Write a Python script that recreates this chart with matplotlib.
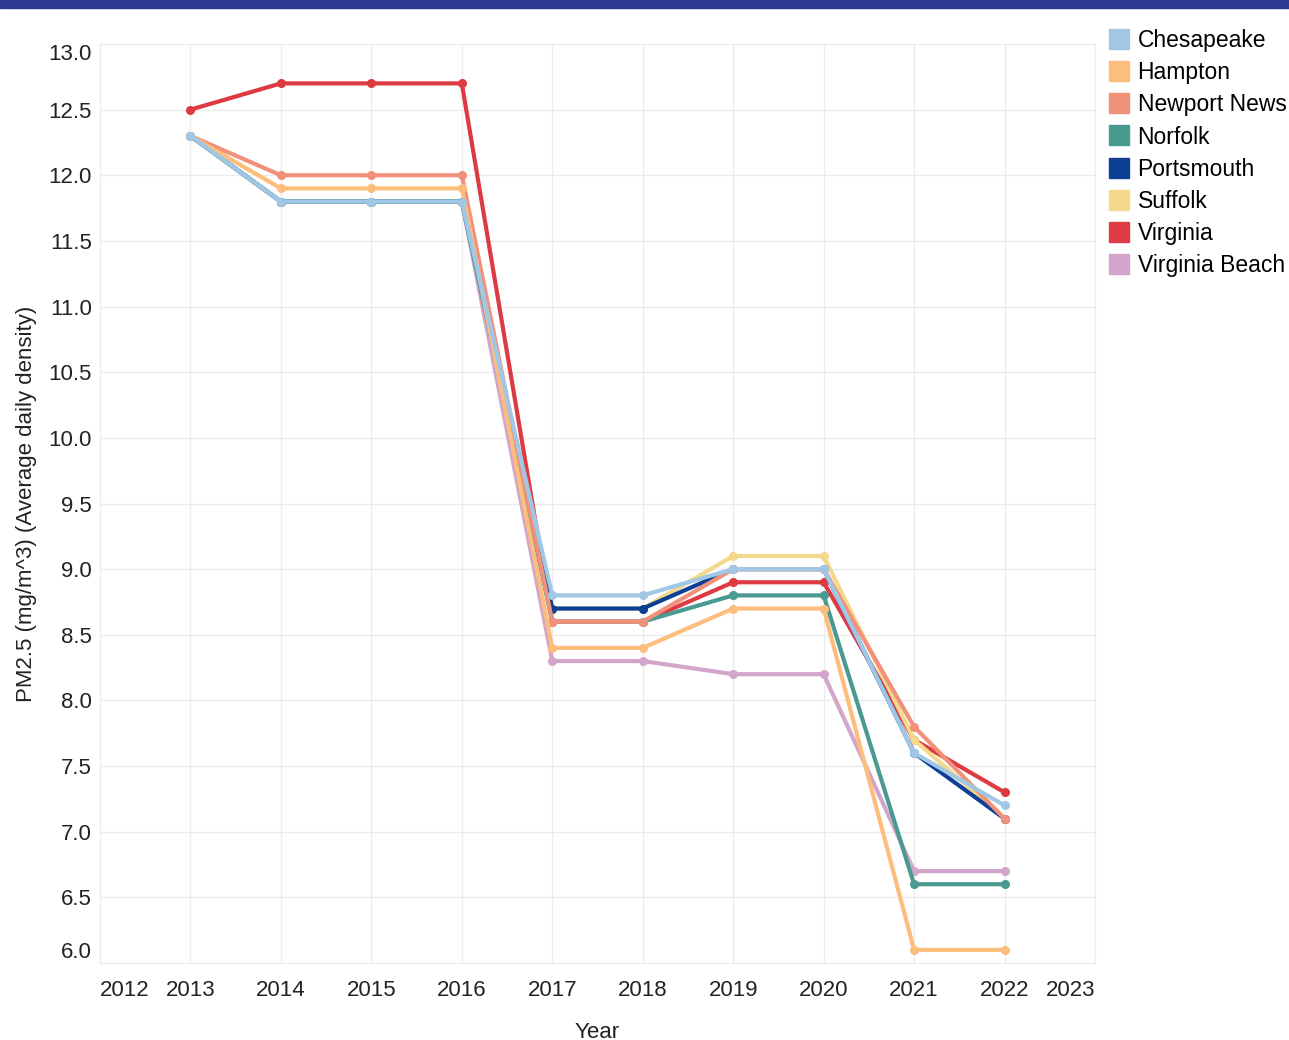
import matplotlib
matplotlib.use("Agg")
import matplotlib.pyplot as plt
from matplotlib.lines import Line2D
from matplotlib.patches import Rectangle

plt.rcParams['font.family'] = ['Liberation Sans', 'DejaVu Sans']

years = [2013, 2014, 2015, 2016, 2017, 2018, 2019, 2020, 2021, 2022]

chesapeake = [12.3, 11.8, 11.8, 11.8, 8.8, 8.8, 9.0, 9.0, 7.6, 7.2]
hampton = [12.3, 11.9, 11.9, 11.9, 8.4, 8.4, 8.7, 8.7, 6.1, 6.1]
newport_news = [12.3, 12.0, 12.0, 12.0, 8.6, 8.6, 9.0, 9.0, 7.8, 7.1]
norfolk = [12.3, 11.8, 11.8, 11.8, 8.6, 8.6, 8.8, 8.8, 6.6, 6.6]
portsmouth = [12.3, 11.8, 11.8, 11.8, 8.7, 8.7, 9.0, 9.0, 7.6, 7.1]
suffolk = [12.3, 11.8, 11.8, 11.8, 8.7, 8.7, 9.1, 9.1, 7.7, 7.1]
virginia = [12.5, 12.7, 12.7, 12.7, 8.6, 8.6, 8.9, 8.9, 7.7, 7.3]
virginia_beach = [12.3, 11.8, 11.8, 11.8, 8.3, 8.3, 8.2, 8.2, 6.7, 6.7]

names = ["Chesapeake", "Hampton", "Newport News", "Norfolk",
         "Portsmouth", "Suffolk", "Virginia", "Virginia Beach"]
series = [chesapeake, hampton, newport_news, norfolk,
          portsmouth, suffolk, virginia, virginia_beach]
colors = ["#A0C8E6", "#FDBE7D", "#F2917A", "#4A9A92",
          "#0F3F94", "#F4D98A", "#DE3A42", "#D2A6CA"]

x_ticks = list(range(2012, 2024))
y_ticks = [6.0 + 0.5 * i for i in range(15)]

fig = plt.figure(figsize=(12.89, 10.4), dpi=100)
ax = fig.add_axes([100 / 1289, 77 / 1040, 995 / 1289, 919 / 1040])

# top banner
fig.patches.append(Rectangle((0, 1032 / 1040), 1, 8 / 1040, transform=fig.transFigure,
                             color="#2B3990", zorder=5))

# draw in reverse legend order so Chesapeake ends up on top
for name, vals, col in reversed(list(zip(names, series, colors))):
    ax.plot(years, vals, color=col, lw=3.0, marker='o', markersize=5.5,
            solid_joinstyle='round', label=name)

ax.set_xlim(2012, 2023)
ax.set_ylim(6.0, 13.0)
ax.set_xticks(x_ticks)
ax.set_xticklabels([str(y) for y in x_ticks])
ax.set_yticks(y_ticks)
ax.set_yticklabels([f"{v:.1f}" for v in y_ticks])
ax.tick_params(axis='both', length=0, labelsize=16, labelcolor='#222222')
ax.tick_params(axis='x', pad=12)
ax.tick_params(axis='y', pad=6)

# edge labels pushed inward
xl = ax.get_xticklabels()
xl[0].set_ha('left')
xl[-1].set_ha('right')
yl = ax.get_yticklabels()
yl[0].set_va('bottom')
yl[-1].set_va('top')

ax.grid(True, color='#ECECEC', lw=1)
ax.set_axisbelow(True)
for s in ax.spines.values():
    s.set_color('#ECECEC')

ax.set_xlabel('Year', fontsize=16, color='#222222', labelpad=15)
ax.set_ylabel('PM2.5 (mg/m^3) (Average daily density)', fontsize=16,
              color='#222222', labelpad=8)

handles = [Line2D([], [], ls='none', marker='s', markersize=14, color=c) for c in colors]
fig.legend(handles, names, loc='upper left', bbox_to_anchor=(1110 / 1289, 1 - 29 / 1040),
           frameon=False, fontsize=16.5, handlelength=0.8, handletextpad=0.4,
           labelspacing=0.4, borderaxespad=0, borderpad=0)

fig.savefig('out.png', dpi=100)
